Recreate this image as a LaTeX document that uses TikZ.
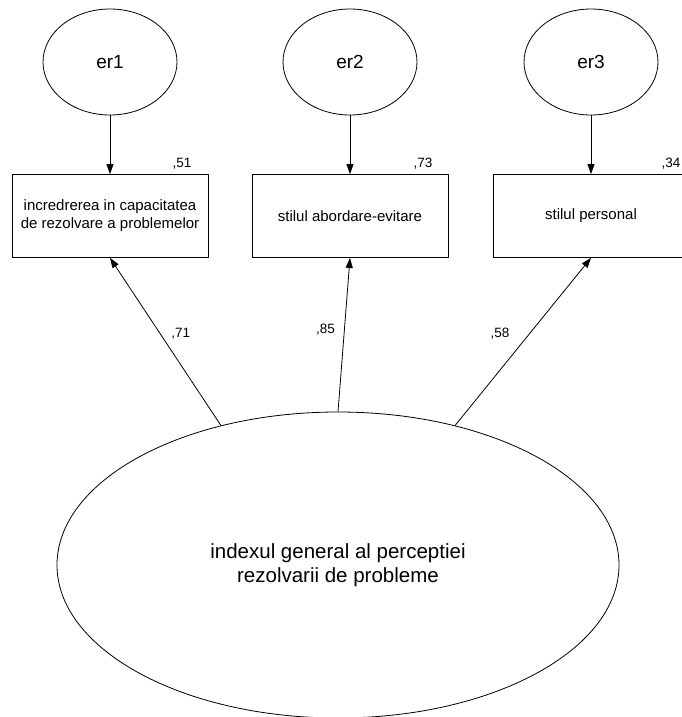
\documentclass[tikz,border=0pt]{standalone}
\usepackage{fontspec}
\setmainfont{Liberation Sans}
\usetikzlibrary{arrows.meta, positioning, shapes.geometric}

\begin{document}
\begin{tikzpicture}[x=1pt, y=-1pt, line width=0.8pt,
    err/.style={draw, ellipse, minimum width=134pt, minimum height=106pt, inner sep=0pt, font=\fontsize{19}{22}\selectfont},
    obs/.style={draw, rectangle, minimum width=196pt, minimum height=83pt, inner sep=0pt, align=center, font=\fontsize{15}{18}\selectfont},
    factor/.style={draw, ellipse, minimum width=562pt, minimum height=306pt, inner sep=0pt, align=center, font=\fontsize{20.5}{24}\selectfont},
    coef/.style={font=\fontsize{13.5}{15}\selectfont, inner sep=1pt},
    arr/.style={-{Triangle[length=10pt,width=7pt]}}]
            % Frame

            \useasboundingbox (0,0) rectangle (682,717);

            % Error terms and indicators
            \node[err] (er1) at (110,62) {er1};
            \node[err] (er2) at (350,62) {er2};
            \node[err] (er3) at (591,62) {er3};

            \node[obs] (box1) at (110,216) {incredrerea in capacitatea\\de rezolvare a problemelor};
            \node[obs] (box2) at (350,216) {stilul abordare-evitare};
            \node[obs] (box3) at (591,216) {stilul personal};

            \node[coef] (r1) at (182,164) {,51};
            \node[coef] (r2) at (423,164) {,73};
            \node[coef] (r3) at (671,164) {,34};

            \draw[arr] (er1) -- (box1);
            \draw[arr] (er2) -- (box2);
            \draw[arr] (er3) -- (box3);

            % Latent factor and loadings
            \node[factor] (big) at (338,565) {indexul general al perceptiei\\rezolvarii de probleme};

            \draw[arr] (big.130) -- node[coef, pos=0.55, right=10pt] {,71} (box1.south);
            \draw[arr] (big.90) -- node[coef, pos=0.53, left=8pt] {,85} (box2.south);
            \draw[arr] (big.50) -- node[coef, pos=0.55, left=19pt] {,58} (box3.south);

        \end{tikzpicture}
\end{document}
